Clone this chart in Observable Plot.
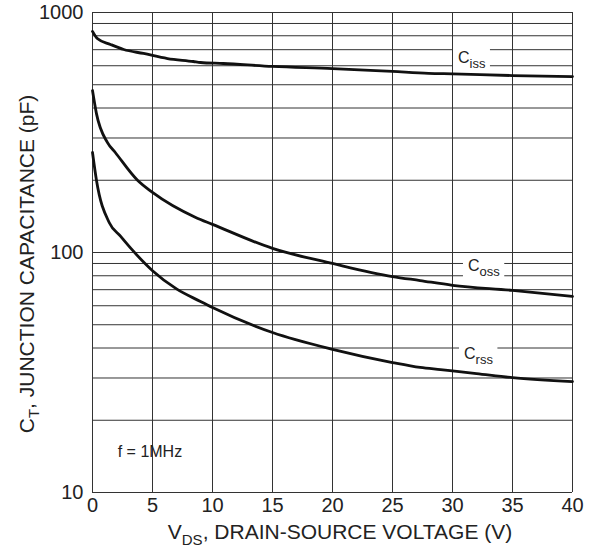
<!DOCTYPE html>
<html>
<head>
<meta charset="utf-8">
<script src="https://cdn.jsdelivr.net/npm/d3@7"></script>
<script src="https://cdn.jsdelivr.net/npm/@observablehq/plot@0.6"></script>
<style>
  html, body { margin: 0; padding: 0; background: #fff; }
  svg { display: block; }
</style>
</head>
<body>
<script>
// ---- data ----
const vIss = [0, 0.4, 1.5, 2.6, 4.25, 6.25, 8.4, 9, 10.9, 15, 20, 25, 28, 30, 35, 40];
const cIss = [834, 779, 736, 701, 675, 643, 625, 619, 613, 596, 584, 568, 558, 555, 546, 541];

const vOss = [0, 0.33, 1.25, 1.9, 3.75, 5, 8.6, 10, 15, 20, 25, 27.3, 30, 35, 40];
const cOss = [473, 379, 287, 261, 200, 178, 140, 131, 104, 90, 79.4, 76.4, 73, 69.5, 65.6];

const vRss = [0, 0.33, 1.4, 2.33, 3.2, 5, 7, 9, 10, 15, 20, 25, 27.3, 29, 32, 35, 40];
const cRss = [261, 200, 133, 117, 104, 84, 70.5, 62.5, 59, 46.4, 39.5, 34.8, 33.2, 32.5, 31.3, 30.1, 29];

const xTicks = [0, 5, 10, 15, 20, 25, 30, 35, 40];
const yTicks = [10, 100, 1000];
const yGrid = [10,20,30,40,50,60,70,80,90,100,200,300,400,500,600,700,800,900,1000];

const seriesNames = ["iss", "oss", "rss"];
const labelV = [30.5, 31.33, 31];
const labelC = [649, 88.3, 37.9];

const noteText = "f = 1MHz";
const noteV = 2.1;
const noteC = 14.7;

const xTitle = ["V", "DS", ", DRAIN-SOURCE VOLTAGE (V)"];
const yTitle = ["C", "T", ", JUNCTION CAPACITANCE (pF)"];

// ---- table ----
const rows = [];
[[vIss, cIss, "iss"], [vOss, cOss, "oss"], [vRss, cRss, "rss"]].forEach(([vs, cs, s]) => {
  vs.forEach((v, i) => rows.push({v, c: cs[i], s}));
});

const chart = Plot.plot({
  width: 598,
  height: 548,
  marginLeft: 92,
  marginRight: 26,
  marginTop: 12,
  marginBottom: 56,
  style: {fontFamily: "'Liberation Sans', Arial, sans-serif", fontSize: "20px", color: "#222", background: "#fff"},
  x: {domain: [0, 40], ticks: xTicks, tickSize: 0, tickPadding: 5, label: null},
  y: {type: "log", domain: [10, 1000], ticks: yTicks, tickFormat: d => String(d), tickSize: 0, tickPadding: 9, label: null},
  marks: [
    Plot.ruleY(yGrid, {stroke: "#333", strokeWidth: 1}),
    Plot.ruleX(xTicks, {stroke: "#333", strokeWidth: 1}),
    Plot.line(rows, {x: "v", y: "c", z: "s", stroke: "#111", strokeWidth: 2.8, curve: "monotone-x"}),
    Plot.text([noteText], {x: () => noteV, y: () => noteC, text: d => d, textAnchor: "start", fontSize: 16, fill: "#222"})
  ]
});
document.body.append(chart);

const svg = d3.select(chart);
const xs = chart.scale("x"), ys = chart.scale("y");

// series labels with white boxes
seriesNames.forEach((name, i) => {
  const g = svg.append("g");
  const t = g.append("text")
    .attr("x", xs.apply(labelV[i]))
    .attr("y", ys.apply(labelC[i]))
    .attr("dy", "0.35em")
    .attr("text-anchor", "start")
    .attr("fill", "#222")
    .style("font-family", "'Liberation Sans', Arial, sans-serif")
    .style("font-size", "16px");
  t.append("tspan").text("C");
  t.append("tspan").attr("dy", 5).style("font-size", "13px").text(name);
  const b = t.node().getBBox();
  g.insert("rect", "text")
    .attr("x", b.x - 5).attr("y", b.y - 2)
    .attr("width", b.width + 9).attr("height", b.height + 2)
    .attr("fill", "#fff");
});

// axis titles
const [x0, x1] = xs.range;
const [yb, yt] = ys.range;
const xt = svg.append("text")
  .attr("x", (x0 + x1) / 2 + 8)
  .attr("y", yb + 47)
  .attr("text-anchor", "middle")
  .attr("fill", "#222")
  .style("font-family", "'Liberation Sans', Arial, sans-serif")
  .style("font-size", "21px");
xt.append("tspan").text(xTitle[0]);
xt.append("tspan").attr("dy", 6).style("font-size", "15px").text(xTitle[1]);
xt.append("tspan").attr("dy", -6).text(xTitle[2]);

const ytx = svg.append("text")
  .attr("transform", `translate(${x0 - 58},${(yb + yt) / 2 + 12}) rotate(-90)`)
  .attr("text-anchor", "middle")
  .attr("fill", "#222")
  .style("font-family", "'Liberation Sans', Arial, sans-serif")
  .style("font-size", "21px");
ytx.append("tspan").text(yTitle[0]);
ytx.append("tspan").attr("dy", 5).style("font-size", "15px").text(yTitle[1]);
ytx.append("tspan").attr("dy", -5).text(yTitle[2]);
</script>
</body>
</html>
